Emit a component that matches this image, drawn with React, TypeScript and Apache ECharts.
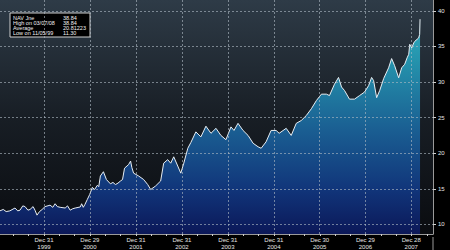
import React, { useEffect, useRef } from "react";
import * as echarts from "echarts";

// NAV series (dates / values)
const dates = [
  "1999-01-14","1999-02-10","1999-03-05","1999-04-03","1999-05-14","1999-06-05","1999-06-23","1999-07-15",
  "1999-08-02","1999-08-25","1999-09-11","1999-10-05","1999-10-20","1999-11-05","1999-11-25","1999-12-16",
  "2000-01-08","2000-02-17","2000-03-10","2000-03-28","2000-04-15","2000-05-07","2000-06-16","2000-07-05",
  "2000-07-26","2000-08-15","2000-09-04","2000-10-14","2000-10-25","2000-11-07","2000-11-20","2000-12-09",
  "2000-12-28","2001-01-18","2001-02-05","2001-02-27","2001-03-10","2001-03-23","2001-04-16","2001-05-10",
  "2001-06-11","2001-07-01","2001-07-21","2001-08-10","2001-08-30","2001-09-15","2001-10-01","2001-11-02",
  "2001-11-18","2001-11-28","2001-12-12","2002-01-21","2002-03-02","2002-04-03","2002-04-27","2002-06-05",
  "2002-07-15","2002-08-08","2002-09-09","2002-10-03","2002-10-27","2002-11-28","2002-12-22","2003-01-15",
  "2003-02-16","2003-03-12","2003-04-21","2003-05-31","2003-07-10","2003-08-19","2003-09-28","2003-11-06",
  "2003-12-16","2004-01-25","2004-02-18","2004-03-21","2004-04-30","2004-06-09","2004-07-19","2004-08-28",
  "2004-09-21","2004-10-30","2004-12-09","2005-01-18","2005-02-11","2005-04-08","2005-05-18","2005-06-27",
  "2005-08-06","2005-09-15","2005-10-25","2005-12-04","2006-01-13","2006-02-22","2006-03-18","2006-04-27",
  "2006-05-29","2006-06-22","2006-07-16","2006-08-24","2006-10-03","2006-11-12","2006-12-22","2007-01-23",
  "2007-02-16","2007-03-04","2007-03-28","2007-04-21","2007-05-23","2007-07-01","2007-07-25","2007-08-18",
  "2007-09-19","2007-10-13","2007-11-06","2007-11-25","2007-12-08","2007-12-16","2008-01-01","2008-01-17",
  "2008-01-24","2008-02-25","2008-03-04","2008-03-07"
];
const navValues = [
  11.9,12.1,11.8,11.9,12.3,11.9,12.0,12.6,
  12.5,12.0,12.1,12.5,12.0,11.3,11.8,12.1,
  12.5,12.7,12.4,12.9,12.5,12.4,12.3,12.6,
  12.0,12.2,12.3,12.45,12.9,12.4,12.8,13.5,
  14.2,15.2,14.9,15.5,15.3,16.8,17.4,16.3,
  15.7,15.9,15.6,15.8,16.1,16.3,17.9,18.4,
  18.9,18.0,17.2,16.8,16.3,15.6,14.9,15.4,
  16.1,18.6,19.1,18.6,19.5,18.2,17.2,18.6,
  20.7,21.5,23.0,22.3,23.8,22.8,23.5,22.5,
  21.9,23.7,23.2,24.2,23.2,22.5,21.4,20.9,
  20.7,21.6,23.2,23.2,22.8,23.5,22.5,24.2,
  24.6,25.3,26.25,27.4,28.3,28.3,28.1,29.7,
  30.65,29.3,28.8,27.6,27.6,28.1,28.6,29.5,
  30.65,30.2,27.8,28.8,30.5,32.0,33.3,32.3,
  30.6,32.0,32.5,33.4,33.9,35.3,34.8,35.5,
  35.7,36.2,36.7,38.84
];

const xTickDates = ["1999-12-31","2000-12-29","2001-12-31","2002-12-31","2003-12-31","2004-12-31","2005-12-30","2006-12-29","2007-12-28"];
const xTickLabels = ["Dec 31\n1999","Dec 29\n2000","Dec 31\n2001","Dec 31\n2002","Dec 31\n2003","Dec 31\n2004","Dec 30\n2005","Dec 29\n2006","Dec 28\n2007"];
const yTicks = [10, 15, 20, 25, 30, 35, 40];
const xMin = "1999-01-15";
const xMax = "2008-06-18";
const yMin = 8.65;
const yMax = 41.53;

const legendLabels = ["NAV Jne", "High on 03/07/08", "Average", "Low on 11/05/99"];
const legendValues = ["38.84", "38.84", "20.81223", "11.30"];

function parseDay(s: string): number {
  const [y, m, d] = s.split("-").map(Number);
  return Date.UTC(y, m - 1, d);
}

export default function App() {
  const ref = useRef<HTMLDivElement>(null);
  useEffect(() => {
    if (!ref.current) return;
    const chart = echarts.init(ref.current, null, { renderer: "svg" });
    const tickTs = xTickDates.map(parseDay);
    const labelMap: Record<string, string> = {};
    tickTs.forEach((t, i) => (labelMap[String(t)] = xTickLabels[i]));
    // minor ticks every 4 months
    const minorTicks: number[] = [];
    for (let y = 1999; y <= 2008; y++) {
      minorTicks.push(Date.UTC(y, 3, 30), Date.UTC(y, 7, 31), Date.UTC(y, 11, 31));
    }
    const data = dates.map((d, i) => [parseDay(d), navValues[i]]);
    const font = "Liberation Sans";
    const gridColor = "rgba(175,185,195,0.62)";

    const legendChildren: any[] = [
      { type: "rect", shape: { x: 10, y: 13, width: 80, height: 24 }, style: { fill: "#000", stroke: "#cfcfcf", lineWidth: 1 } },
    ];
    legendLabels.forEach((t, i) => {
      legendChildren.push({ type: "text", x: 13, y: 17.5 + i * 5.2, style: { text: t, fill: "#f0f0f0", font: `5.5px ${font}`, verticalAlign: "middle" } });
      legendChildren.push({ type: "text", x: 63, y: 17.5 + i * 5.2, style: { text: legendValues[i], fill: "#f0f0f0", font: `5.5px ${font}`, verticalAlign: "middle" } });
    });

    chart.setOption({
      animation: false,
      backgroundColor: "#000",
      grid: {
        left: 0, top: 0, right: 17, bottom: 13, show: true, borderWidth: 0,
        backgroundColor: new echarts.graphic.LinearGradient(0, 0, 0, 1, [
          { offset: 0, color: "#2e3b47" },
          { offset: 0.5, color: "#181e25" },
          { offset: 1, color: "#0a0c10" },
        ]),
      },
      xAxis: [
        {
          type: "value", min: parseDay(xMin), max: parseDay(xMax), z: 5,
          axisLine: { show: true, lineStyle: { color: "#9a9a9a", width: 1 } },
          axisTick: { show: false, customValues: tickTs },
          axisLabel: {
            customValues: tickTs, color: "#e6e6e6", fontSize: 6, lineHeight: 6.5, fontFamily: font, margin: 3,
            formatter: (v: number) => labelMap[String(v)] ?? "",
          },
          splitLine: { show: true, lineStyle: { color: gridColor, type: [2, 2], width: 1 } },
        },
        {
          type: "value", min: parseDay(xMin), max: parseDay(xMax), position: "bottom", z: 5,
          axisLine: { show: false },
          axisTick: { show: true, customValues: minorTicks, length: 2, lineStyle: { color: "#cfcfcf" } },
          axisLabel: { show: false },
          splitLine: { show: false },
        },
      ],
      yAxis: {
        type: "value", position: "right", min: yMin, max: yMax, z: 5,
        axisLine: { show: true, lineStyle: { color: "#9a9a9a", width: 1 } },
        axisTick: { show: true, customValues: yTicks, length: 3, lineStyle: { color: "#cfcfcf" } },
        axisLabel: { customValues: yTicks, color: "#e6e6e6", fontSize: 6, fontFamily: font, margin: 5 },
        splitLine: { show: true, lineStyle: { color: gridColor, type: [2, 2], width: 1 } },
      },
      series: [
        {
          type: "line", data, showSymbol: false, symbol: "none", z: 2,
          lineStyle: { color: "#e8eef3", width: 1 },
          areaStyle: {
            opacity: 1,
            color: new echarts.graphic.LinearGradient(0, 0, 0, 237, [
              { offset: 0, color: "#37b8c8" },
              { offset: 0.25, color: "#2594ad" },
              { offset: 0.55, color: "#1a5e92" },
              { offset: 0.8, color: "#11357a" },
              { offset: 1, color: "#0b1656" },
            ], true),
          },
        },
      ],
      graphic: [
        { type: "line", shape: { x1: 433, y1: 237, x2: 433, y2: 250 }, style: { stroke: "#9a9a9a", lineWidth: 1 } },
        { type: "group", children: legendChildren },
      ],
    });
    return () => chart.dispose();
  }, []);
  return <div ref={ref} style={{ position: "absolute", left: 0, top: 0, width: 450, height: 250, background: "#000" }} />;
}
